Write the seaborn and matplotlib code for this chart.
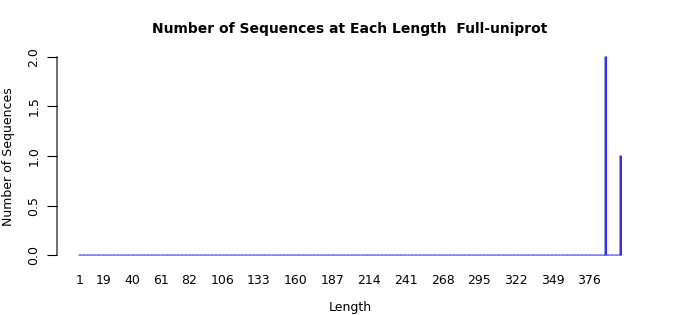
import matplotlib
matplotlib.use("Agg")
import matplotlib.pyplot as plt
import seaborn as sns
import pandas as pd
import numpy as np

# Data
lengths = list(range(1, 400))
nonzero_lengths = [388, 399]
nonzero_counts = [2, 1]
tick_labels = [1, 19, 40, 61, 82, 106, 133, 160, 187, 214, 241, 268, 295, 322, 349, 376]
y_ticks = [0.0, 0.5, 1.0, 1.5, 2.0]

counts = [0] * len(lengths)
for L, c in zip(nonzero_lengths, nonzero_counts):
    counts[lengths.index(L)] = c

df = pd.DataFrame({"Length": lengths, "Count": counts})

sns.set_theme(style="white")
plt.rcParams["font.family"] = ["DejaVu Sans"]
plt.rcParams["text.color"] = "black"
plt.rcParams["axes.labelcolor"] = "black"
plt.rcParams["path.snap"] = False

fig = plt.figure(figsize=(7, 3.15), dpi=100)
ax = fig.add_axes([57 / 700, (315 - 263) / 315, (643 - 57) / 700, (263 - 49) / 315])

bw = 1 / 1.2
sns.barplot(data=df, x="Length", y="Count", order=lengths, color="#A020F0",
            saturation=1, edgecolor="#2828FF", linewidth=0.8, width=0.98, ax=ax,
            errorbar=None)

n = len(lengths)
span = (n - 1 + bw)
ext = span * 0.04
ax.set_xlim(-bw / 2 - ext, n - 1 + bw / 2 + ext)
ax.set_ylim(-0.08, 2.08)

ax.set_xticks([lengths.index(t) for t in tick_labels])
ax.set_xticklabels([str(t) for t in tick_labels], fontsize=9)
ax.tick_params(axis="x", length=0, pad=8, colors="black")

ax.set_yticks(y_ticks)
ax.set_yticklabels([f"{v:.1f}" for v in y_ticks], rotation=90, va="center", fontsize=9)
ax.tick_params(axis="y", length=7, width=0.8, direction="out", pad=5, colors="black",
               left=True)

for s in ["top", "right", "bottom"]:
    ax.spines[s].set_visible(False)
ax.spines["left"].set_bounds(0, 2)
ax.spines["left"].set_color("black")
ax.spines["left"].set_linewidth(0.8)

ax.set_xlabel("")
ax.set_ylabel("")
fig.text(350 / 700, 1 - 308 / 315, "Length", ha="center", va="center", fontsize=9,
         color="black")
fig.text(9 / 700, 1 - 157 / 315, "Number of Sequences", ha="center", va="center",
         rotation=90, fontsize=9, color="black")
fig.text(350 / 700, 1 - 29 / 315, "Number of Sequences at Each Length  Full-uniprot",
         ha="center", va="center", fontsize=10, fontweight="bold", color="black")

fig.savefig("out.png", dpi=100)
